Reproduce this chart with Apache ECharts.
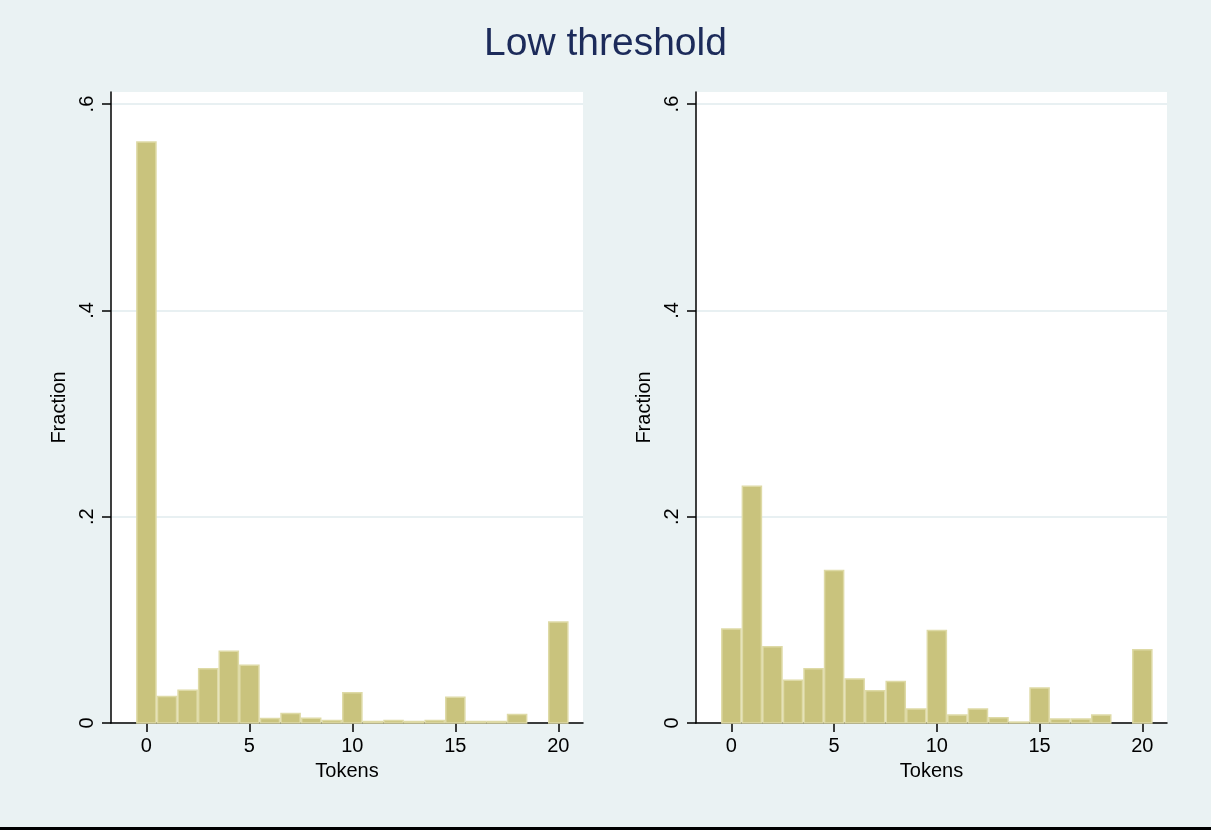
<!DOCTYPE html>
<html>
<head>
<meta charset="utf-8">
<script src="https://cdn.jsdelivr.net/npm/echarts@6/dist/echarts.min.js"></script>
<style>
  html, body { margin: 0; padding: 0; background: #eaf2f3; }
  #chart { width: 1211px; height: 830px; }
</style>
</head>
<body>
<div id="chart"></div>
<script>
// Histogram bins (token counts 0..20, width 1) and their fractions
const tokens = [0, 1, 2, 3, 4, 5, 6, 7, 8, 9, 10, 11, 12, 13, 14, 15, 16, 17, 18, 19, 20];
const fractionLeft = [0.564, 0.0265, 0.0324, 0.0534, 0.0702, 0.0566, 0.0052, 0.0100, 0.0054, 0.0032, 0.0300,
                      0.0023, 0.0032, 0.0023, 0.0032, 0.0256, 0.0023, 0.0023, 0.0090, 0, 0.0987];
const fractionRight = [0.0918, 0.2302, 0.0746, 0.0422, 0.0532, 0.1485, 0.0435, 0.0321, 0.0409, 0.0143, 0.0905,
                       0.0084, 0.0143, 0.0058, 0.0016, 0.0347, 0.0045, 0.0045, 0.0084, 0, 0.0717];
const xTicks = [0, 5, 10, 15, 20];
const yTicks = [0, 0.2, 0.4, 0.6];
const titleText = 'Low threshold';
const xName = 'Tokens';
const yName = 'Fraction';

const FONT = '"Liberation Sans", Arial, Helvetica, sans-serif';
const BAR_FILL = '#c9c37d';
const BAR_EDGE = '#dedaa6';

function pairs(values) {
  return tokens.map((t, i) => [t, values[i]]);
}

function renderBin(params, api) {
  const x = api.value(0);
  const y = api.value(1);
  if (!y) return null;
  const p0 = api.coord([x - 0.5, y]);
  const p1 = api.coord([x + 0.5, 0]);
  return {
    type: 'rect',
    shape: { x: p0[0] + 0.75, y: p0[1] + 0.75, width: p1[0] - p0[0] - 1.5, height: p1[1] - p0[1] - 0.75 },
    style: { fill: BAR_FILL, stroke: BAR_EDGE, lineWidth: 1.5 }
  };
}

function xAxisFor(gridIndex) {
  return {
    type: 'value', gridIndex, min: -1.72, max: 21.2,
    name: xName, nameLocation: 'middle', nameGap: 38,
    nameTextStyle: { fontFamily: FONT, fontSize: 20, color: '#000' },
    axisLine: { show: true, onZero: false, lineStyle: { color: '#000', width: 1.5 } },
    axisTick: { show: true, length: 9, customValues: xTicks, lineStyle: { color: '#000', width: 1.5 } },
    axisLabel: { customValues: xTicks, fontFamily: FONT, fontSize: 20, color: '#000', margin: 13 },
    splitLine: { show: false }
  };
}

function yAxisFor(gridIndex) {
  return {
    type: 'value', gridIndex, min: 0, max: 0.6117,
    name: yName, nameLocation: 'middle', nameGap: 42, nameRotate: 90,
    nameTextStyle: { fontFamily: FONT, fontSize: 20, color: '#000' },
    axisLine: { show: true, onZero: false, lineStyle: { color: '#000', width: 1.5 } },
    axisTick: { show: true, length: 9, customValues: yTicks, lineStyle: { color: '#000', width: 1.5 } },
    axisLabel: {
      customValues: yTicks, rotate: 90, fontFamily: FONT, fontSize: 20, color: '#000', margin: 14,
      formatter: v => v === 0 ? '0' : String(Math.round(v * 10) / 10).replace(/^0/, '')
    },
    splitLine: { show: true, lineStyle: { color: '#e8f0f2', width: 2 } }
  };
}

const chart = echarts.init(document.getElementById('chart'), null, { renderer: 'canvas' });
chart.setOption({
  backgroundColor: '#eaf2f3',
  animation: false,
  title: {
    text: titleText, left: 'center', top: 20,
    textStyle: { fontFamily: FONT, fontSize: 39, fontWeight: 'normal', color: '#1c2b5a' }
  },
  grid: [
    { left: 111, right: 628, top: 92, bottom: 107, show: true, backgroundColor: '#ffffff', borderWidth: 0 },
    { left: 696, right: 44, top: 92, bottom: 107, show: true, backgroundColor: '#ffffff', borderWidth: 0 }
  ],
  xAxis: [xAxisFor(0), xAxisFor(1)],
  yAxis: [yAxisFor(0), yAxisFor(1)],
  series: [
    { type: 'custom', xAxisIndex: 0, yAxisIndex: 0, data: pairs(fractionLeft), renderItem: renderBin, encode: { x: 0, y: 1 } },
    { type: 'custom', xAxisIndex: 1, yAxisIndex: 1, data: pairs(fractionRight), renderItem: renderBin, encode: { x: 0, y: 1 } }
  ],
  graphic: [
    { type: 'rect', left: 0, bottom: 0, shape: { width: 1211, height: 3 }, style: { fill: '#000' } }
  ]
});
</script>
</body>
</html>
